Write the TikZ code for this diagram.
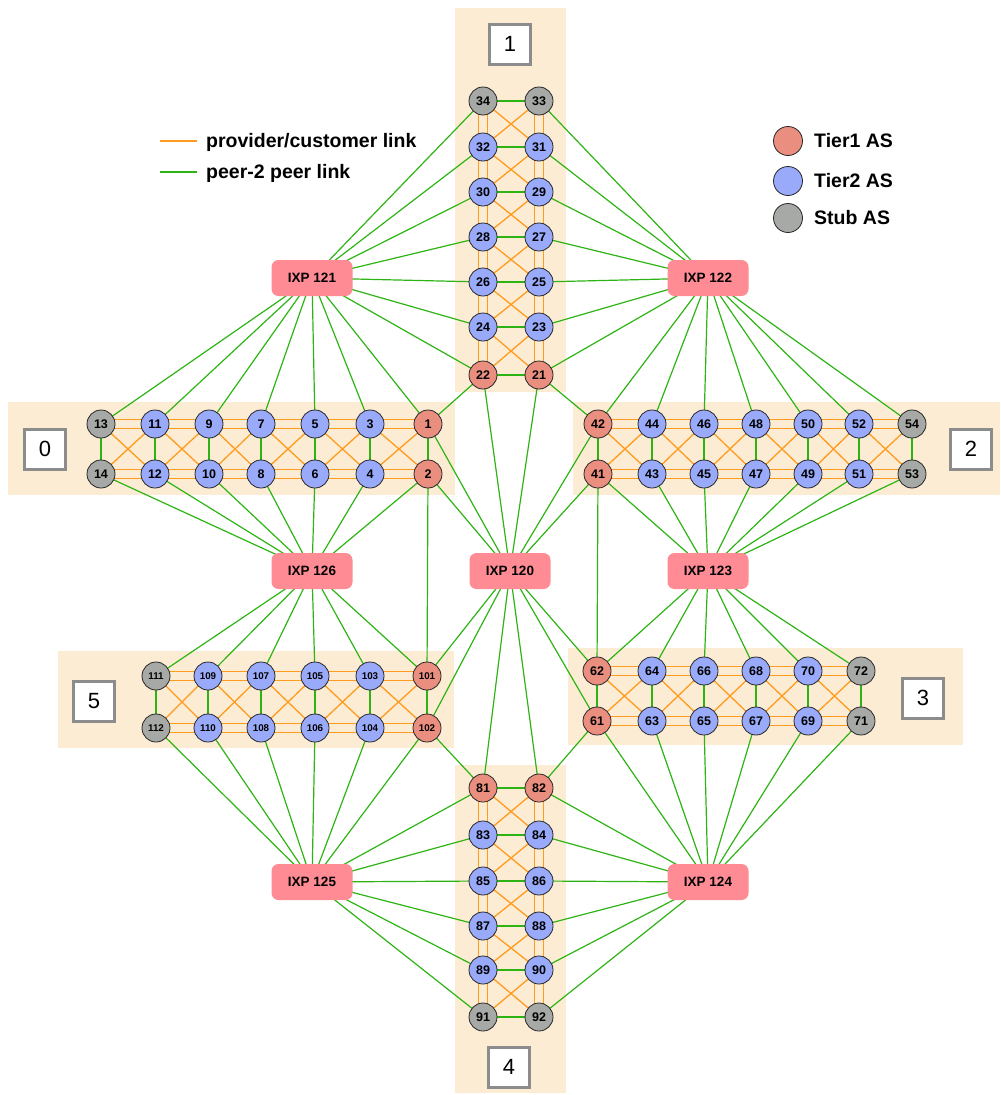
\documentclass[tikz,border=0pt]{standalone}
\usepackage{fontspec}
\setmainfont{Liberation Sans}
\pgfdeclarelayer{panel}
\pgfdeclarelayer{edges}
\pgfsetlayers{panel,edges,main}
\definecolor{tonec}{RGB}{234,143,128}
\definecolor{ttwoc}{RGB}{153,170,250}
\definecolor{stubc}{RGB}{166,169,166}
\definecolor{ixpc}{RGB}{255,139,148}
\definecolor{panelc}{RGB}{253,236,212}
\definecolor{pcc}{RGB}{255,155,30}
\definecolor{ppc}{RGB}{45,180,20}
\definecolor{tagc}{RGB}{140,140,140}
\tikzset{
 asn/.style={circle, draw=black!85, line width=0.8pt, minimum size=28pt, inner sep=0pt, font=\fontsize{12.5}{12.5}\selectfont\bfseries},
 sm/.style={font=\fontsize{9.8}{10}\selectfont\bfseries},
 ixp/.style={rectangle, rounded corners=7pt, fill=ixpc, minimum width=81pt, minimum height=36pt, inner sep=0pt, font=\fontsize{13.5}{13.5}\selectfont\bfseries},
 pc/.style={draw=pcc, line width=1.3pt},
 pp/.style={draw=ppc, line width=1.2pt},
 tag/.style={draw=tagc, line width=3pt, fill=white, minimum width=41pt, minimum height=40pt, inner sep=0pt, font=\fontsize{22}{22}\selectfont},
 legtext/.style={anchor=base west, inner sep=0pt, font=\fontsize{19.5}{19.5}\selectfont\bfseries},
}
\begin{document}
\begin{tikzpicture}[x=1pt,y=-1pt]
\useasboundingbox (0,0) rectangle (1001,1095);
% panels
\begin{pgfonlayer}{panel}
\fill[panelc] (455,8) rectangle (566,392);
\fill[panelc] (8,402) rectangle (455,495);
\fill[panelc] (573,402) rectangle (1000,495);
\fill[panelc] (58,651) rectangle (454,748);
\fill[panelc] (568,648) rectangle (963,745);
\fill[panelc] (455,765) rectangle (566,1093);
\end{pgfonlayer}
% cluster 1
\foreach \a/\b/\y/\c in {34/33/101/stubc,32/31/147/ttwoc,30/29/192/ttwoc,28/27/237/ttwoc,26/25/282/ttwoc,24/23/327/ttwoc,22/21/375/tonec}{
  \node[asn,fill=\c] (n\a) at (483,\y) {\a};
  \node[asn,fill=\c] (n\b) at (539,\y) {\b};
}
% cluster 4
\foreach \a/\b/\y/\c in {81/82/788/tonec,83/84/835/ttwoc,85/86/881/ttwoc,87/88/926/ttwoc,89/90/970/ttwoc,91/92/1017/stubc}{
  \node[asn,fill=\c] (n\a) at (483,\y) {\a};
  \node[asn,fill=\c] (n\b) at (539,\y) {\b};
}
% cluster 0
\foreach \a/\b/\x/\c in {13/14/101/stubc,11/12/155/ttwoc,9/10/209/ttwoc,7/8/261/ttwoc,5/6/315/ttwoc,3/4/370/ttwoc,1/2/428/tonec}{
  \node[asn,fill=\c] (n\a) at (\x,424) {\a};
  \node[asn,fill=\c] (n\b) at (\x,474) {\b};
}
% cluster 2
\foreach \a/\b/\x/\c in {42/41/598/tonec,44/43/652/ttwoc,46/45/704/ttwoc,48/47/756/ttwoc,50/49/808/ttwoc,52/51/859/ttwoc,54/53/912/stubc}{
  \node[asn,fill=\c] (n\a) at (\x,424) {\a};
  \node[asn,fill=\c] (n\b) at (\x,474) {\b};
}
% cluster 5
\foreach \a/\b/\x/\c in {111/112/156/stubc,109/110/208/ttwoc,107/108/261/ttwoc,105/106/315/ttwoc,103/104/370/ttwoc,101/102/427/tonec}{
  \node[asn,sm,fill=\c] (n\a) at (\x,676) {\a};
  \node[asn,sm,fill=\c] (n\b) at (\x,728) {\b};
}
% cluster 3
\foreach \a/\b/\x/\c in {62/61/597/tonec,64/63/652/ttwoc,66/65/704/ttwoc,68/67/756/ttwoc,70/69/808/ttwoc,72/71/861/stubc}{
  \node[asn,fill=\c] (n\a) at (\x,671) {\a};
  \node[asn,fill=\c] (n\b) at (\x,721) {\b};
}
% IXPs
\node[ixp] (x121) at (312,278) {IXP 121};
\node[ixp] (x122) at (708,278) {IXP 122};
\node[ixp] (x126) at (312,571) {IXP 126};
\node[ixp] (x120) at (510,571) {IXP 120};
\node[ixp] (x123) at (708,571) {IXP 123};
\node[ixp] (x125) at (312,882) {IXP 125};
\node[ixp] (x124) at (708,882) {IXP 124};
% tags
\node[tag] (g1) at (510,44) {1};
\node[tag] (g0) at (45,449) {0};
\node[tag] (g2) at (971,449) {2};
\node[tag] (g5) at (94,701) {5};
\node[tag] (g3) at (923,698) {3};
\node[tag] (g4) at (509,1067) {4};
% legend
\coordinate (lo1) at (160,141); \coordinate (lo2) at (197,141);
\coordinate (lg1) at (160,172); \coordinate (lg2) at (197,172);
\draw[pc, line width=2.2pt] (lo1) -- (lo2);
\draw[pp, line width=2.2pt] (lg1) -- (lg2);
\node[legtext] (lt1) at (206,147) {provider/customer link};
\node[legtext] (lt2) at (206,178) {peer-2 peer link};
\node[asn,fill=tonec,minimum size=29pt] (lc1) at (788,141) {};
\node[asn,fill=ttwoc,minimum size=29pt] (lc2) at (788,181) {};
\node[asn,fill=stubc,minimum size=29pt] (lc3) at (788,218) {};
\node[legtext] (lt3) at (814,147) {Tier1 AS};
\node[legtext] (lt4) at (814,187) {Tier2 AS};
\node[legtext] (lt5) at (814,224) {Stub AS};
% edges
\begin{pgfonlayer}{edges}
\foreach \a/\b/\c/\d in {34/33/32/31,32/31/30/29,30/29/28/27,28/27/26/25,26/25/24/23,24/23/22/21,81/82/83/84,83/84/85/86,85/86/87/88,87/88/89/90,89/90/91/92}{
 \draw[pc] ([xshift=-4.5pt]n\a.center) -- ([xshift=-4.5pt]n\c.center);
 \draw[pc] ([xshift=4.5pt]n\a.center) -- ([xshift=4.5pt]n\c.center);
 \draw[pc] ([xshift=-4.5pt]n\b.center) -- ([xshift=-4.5pt]n\d.center);
 \draw[pc] ([xshift=4.5pt]n\b.center) -- ([xshift=4.5pt]n\d.center);
 \draw[pc] (n\a.center) -- (n\d.center);
 \draw[pc] (n\b.center) -- (n\c.center);
}
\foreach \a/\b/\c/\d in {13/14/11/12,11/12/9/10,9/10/7/8,7/8/5/6,5/6/3/4,3/4/1/2,42/41/44/43,44/43/46/45,46/45/48/47,48/47/50/49,50/49/52/51,52/51/54/53,111/112/109/110,109/110/107/108,107/108/105/106,105/106/103/104,103/104/101/102,62/61/64/63,64/63/66/65,66/65/68/67,68/67/70/69,70/69/72/71}{
 \draw[pc] ([yshift=-4.5pt]n\a.center) -- ([yshift=-4.5pt]n\c.center);
 \draw[pc] ([yshift=4.5pt]n\a.center) -- ([yshift=4.5pt]n\c.center);
 \draw[pc] ([yshift=-4.5pt]n\b.center) -- ([yshift=-4.5pt]n\d.center);
 \draw[pc] ([yshift=4.5pt]n\b.center) -- ([yshift=4.5pt]n\d.center);
 \draw[pc] (n\a.center) -- (n\d.center);
 \draw[pc] (n\b.center) -- (n\c.center);
}
\foreach \a/\b in {34/33,32/31,30/29,28/27,26/25,24/23,22/21,81/82,83/84,85/86,87/88,89/90,91/92,13/14,11/12,9/10,7/8,5/6,3/4,1/2,42/41,44/43,46/45,48/47,50/49,52/51,54/53,111/112,109/110,107/108,105/106,103/104,101/102,62/61,64/63,66/65,68/67,70/69,72/71}{
 \draw[pp] (n\a.center) -- (n\b.center);
}
\foreach \t in {34,32,30,28,26,24,22,13,11,9,7,5,3,1} \draw[pp] (x121.center) -- (n\t.center);
\foreach \t in {33,31,29,27,25,23,21,42,44,46,48,50,52,54} \draw[pp] (x122.center) -- (n\t.center);
\foreach \t in {14,12,10,8,6,4,2,111,109,107,105,103,101} \draw[pp] (x126.center) -- (n\t.center);
\foreach \t in {1,2,22,21,42,41,101,102,81,82,61,62} \draw[pp] (x120.center) -- (n\t.center);
\foreach \t in {41,43,45,47,49,51,53,62,64,66,68,70,72} \draw[pp] (x123.center) -- (n\t.center);
\foreach \t in {112,110,108,106,104,102,81,83,85,87,89,91} \draw[pp] (x125.center) -- (n\t.center);
\foreach \t in {61,63,65,67,69,71,82,84,86,88,90,92} \draw[pp] (x124.center) -- (n\t.center);
\foreach \a/\b in {2/101,41/62,22/1,21/42,102/81,82/61} \draw[pp] (n\a.center) -- (n\b.center);
\end{pgfonlayer}
\end{tikzpicture}
\end{document}
